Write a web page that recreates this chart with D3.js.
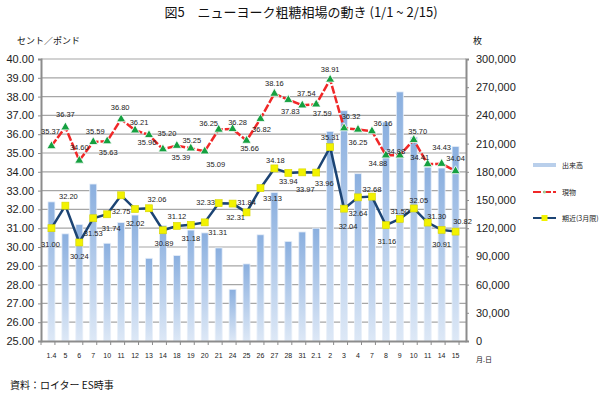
<!DOCTYPE html>
<html>
<head>
<meta charset="utf-8">
<script src="https://cdn.jsdelivr.net/npm/d3@7"></script>
<style>
  body { margin: 0; background: #fff; }
  text { font-family: "Liberation Sans", Arial, "Noto Sans CJK JP", sans-serif; }
  .jp { font-family: "Noto Sans CJK JP", sans-serif; }
</style>
</head>
<body>
<script>
// data
var dates = ["1.4","5","6","7","10","11","12","13","14","18","19","20","21","24","25",
             "26","27","28","31","2.1","2","3","4","7","8","9","10","11","14","15"];

var spot = [35.37,36.37,34.60,35.59,35.63,36.80,36.21,35.96,35.20,35.39,35.25,35.09,36.25,36.28,35.66,
            36.82,38.16,37.83,37.54,37.59,38.91,36.32,36.25,36.16,34.88,34.88,35.70,34.41,34.43,34.04];

var nearby = [31.00,32.20,30.24,31.53,31.74,32.75,32.02,32.06,30.89,31.12,31.18,31.31,32.33,32.31,31.84,
              33.13,34.18,33.94,33.97,33.96,35.31,32.04,32.64,32.68,31.16,31.50,32.05,31.30,30.91,30.82];

var volume = [148000,114000,124000,167000,104000,126000,134000,88000,123000,91000,118000,115000,99000,55000,82000,
              113000,158000,106000,116000,120000,223000,245000,178000,152000,233000,265000,217000,185000,184000,207000];

var leftTicks = d3.range(25, 40.01, 1);
var rightTicks = d3.range(0, 300001, 30000);

// label nudges [dx, dy] so the numbers sit where they do in the original
var spotLab = [[-1,-15],[0,-13],[0,-13],[2,-10],[1,11],[-1,-12],[4,-8],[-2,8],[4,-16],[4,12],
               [1,-8],[11,13],[-10,-6],[5,-6],[3,8],[1,11],[0,-10],[2,12],[4,-12],[6,9],
               [0,-10],[7,-12],[0,13],[11,-8],[-8,8],[-4,-4],[4,-8],[-8,-7],[0,-16],[0,-13]];
var nearLab = [[-1,16],[3,-9],[0,14],[0,15],[4,14],[0,16],[0,14],[8,-9],[1,13],[0,-9],
               [0,14],[13,10],[-13,-1],[3,14],[0,-10],[12,10],[1,-8],[0,9],[3,17],[8,11],
               [0,-10],[4,18],[0,16],[0,-7],[1,16],[0,-7],[5,-8],[9,-6],[0,15],[7,-10]];

var width = 604,
    height = 396;

var plotLeft = 41, plotRight = 466, plotTop = 59, plotBottom = 341;

var svg = d3.select("body")
            .append("svg")
            .attr("width", width)
            .attr("height", height);

var defs = svg.append("defs");
var grad = defs.append("linearGradient")
               .attr("id", "barGrad")
               .attr("x1", 0).attr("y1", 0).attr("x2", 0).attr("y2", 1);
grad.append("stop").attr("offset", "0%").attr("stop-color", "#8aafdf");
grad.append("stop").attr("offset", "100%").attr("stop-color", "#dde8f6");

var x = d3.scaleBand()
          .domain(d3.range(dates.length))
          .range([plotLeft, plotRight])
          .padding(0.5);

var y = d3.scaleLinear().domain([25, 40]).range([plotBottom, plotTop]);
var y2 = d3.scaleLinear().domain([0, 300000]).range([plotBottom, plotTop]);

var cx = function(i) { return x(i) + x.bandwidth() / 2; };

// title
svg.append("text")
   .attr("class", "jp")
   .attr("x", 301).attr("y", 17)
   .attr("text-anchor", "middle")
   .attr("font-size", 13)
   .attr("fill", "#111")
   .text("図5　ニューヨーク粗糖相場の動き (1/1 ~ 2/15)");

svg.append("text")
   .attr("class", "jp")
   .attr("x", 17).attr("y", 44)
   .attr("font-size", 9)
   .attr("fill", "#111")
   .text("セント／ポンド");

svg.append("text")
   .attr("class", "jp")
   .attr("x", 473).attr("y", 44)
   .attr("font-size", 9)
   .attr("fill", "#111")
   .text("枚");

// gridlines
svg.append("g")
   .selectAll("line")
   .data(leftTicks.slice(1))
   .enter()
   .append("line")
     .attr("x1", plotLeft).attr("x2", plotRight)
     .attr("y1", d => y(d)).attr("y2", d => y(d))
     .attr("stroke", "#a6a6a6")
     .attr("stroke-width", 1.2);

// bars
svg.append("g")
   .selectAll("rect")
   .data(volume)
   .enter()
   .append("rect")
     .attr("x", (d, i) => x(i))
     .attr("y", d => y2(d))
     .attr("width", x.bandwidth())
     .attr("height", d => plotBottom - y2(d))
     .attr("fill", "url(#barGrad)")
     .attr("stroke", "#e8eff9")
     .attr("stroke-width", 0.8);

// axes
var axL = svg.append("g")
   .attr("transform", "translate(" + plotLeft + ",0)")
   .call(d3.axisLeft(y).tickValues(leftTicks).tickFormat(d3.format(".2f")).tickSize(3).tickPadding(4));
var axR = svg.append("g")
   .attr("transform", "translate(" + plotRight + ",0)")
   .call(d3.axisRight(y2).tickValues(rightTicks).tickFormat(d3.format(",")).tickSize(3).tickPadding(7));
var axB = svg.append("g")
   .attr("transform", "translate(0," + plotBottom + ")")
   .call(d3.axisBottom(x).tickFormat(i => dates[i]).tickSize(0).tickPadding(12));

[axL, axR].forEach(function(a) {
  a.select(".domain").attr("stroke", "#8c8c8c").attr("stroke-width", 2);
  a.selectAll(".tick line").attr("stroke", "#8c8c8c");
  a.selectAll("text").attr("font-size", 11).attr("fill", "#222");
});
axB.select(".domain").attr("stroke", "#8c8c8c").attr("stroke-width", 2);
axB.selectAll("text").attr("font-size", 7).attr("fill", "#222");

// little ticks between categories on the bottom axis
svg.append("g")
   .selectAll("line")
   .data(d3.range(dates.length + 1))
   .enter()
   .append("line")
     .attr("x1", i => plotLeft + i * x.step())
     .attr("x2", i => plotLeft + i * x.step())
     .attr("y1", plotBottom).attr("y2", plotBottom + 4)
     .attr("stroke", "#8c8c8c");

svg.append("text")
   .attr("class", "jp")
   .attr("x", 476).attr("y", 362)
   .attr("font-size", 7)
   .attr("fill", "#222")
   .text("月.日");

// spot line (red dashed, green triangles)
var line1 = d3.line().x((d, i) => cx(i)).y(d => y(d));
svg.append("path")
   .datum(spot)
   .attr("d", line1)
   .attr("fill", "none")
   .attr("stroke", "#f02828")
   .attr("stroke-width", 2.5)
   .attr("stroke-dasharray", "8,2");

svg.append("g")
   .selectAll("path")
   .data(spot)
   .enter()
   .append("path")
     .attr("d", d3.symbol().type(d3.symbolTriangle).size(36))
     .attr("transform", (d, i) => "translate(" + cx(i) + "," + y(d) + ")")
     .attr("fill", "#15a040")
     .attr("stroke", "#fff")
     .attr("stroke-width", 0.8);

// nearby futures line (navy, yellow squares)
svg.append("path")
   .datum(nearby)
   .attr("d", line1)
   .attr("fill", "none")
   .attr("stroke", "#1c4474")
   .attr("stroke-width", 2.5);

svg.append("g")
   .selectAll("rect")
   .data(nearby)
   .enter()
   .append("rect")
     .attr("x", (d, i) => cx(i) - 3.5)
     .attr("y", d => y(d) - 3.5)
     .attr("width", 7).attr("height", 7)
     .attr("fill", "#f2f200")
     .attr("stroke", "#d6d600")
     .attr("stroke-width", 0.6);

// value labels
svg.append("g")
   .selectAll("text")
   .data(spot)
   .enter()
   .append("text")
     .attr("x", (d, i) => cx(i) + spotLab[i][0])
     .attr("y", (d, i) => y(d) + spotLab[i][1])
     .attr("text-anchor", "middle")
     .attr("dominant-baseline", "central")
     .attr("font-size", 7.5)
     .attr("fill", "#222")
     .text(d => d.toFixed(2));

svg.append("g")
   .selectAll("text")
   .data(nearby)
   .enter()
   .append("text")
     .attr("x", (d, i) => cx(i) + nearLab[i][0])
     .attr("y", (d, i) => y(d) + nearLab[i][1])
     .attr("text-anchor", "middle")
     .attr("dominant-baseline", "central")
     .attr("font-size", 7.5)
     .attr("fill", "#222")
     .text(d => d.toFixed(2));

// legend
var lg = svg.append("g").attr("transform", "translate(533,0)");
lg.append("rect")
  .attr("x", 0).attr("y", 163).attr("width", 23).attr("height", 4)
  .attr("fill", "#b9cfeb");
lg.append("line")
  .attr("x1", 0).attr("x2", 23).attr("y1", 192).attr("y2", 192)
  .attr("stroke", "#f02828").attr("stroke-width", 2).attr("stroke-dasharray", "8,2");
lg.append("circle")
  .attr("cx", 11.5).attr("cy", 192).attr("r", 1.5).attr("fill", "#9fd49f");
lg.append("line")
  .attr("x1", 0).attr("x2", 23).attr("y1", 218).attr("y2", 218)
  .attr("stroke", "#1c4474").attr("stroke-width", 2);
lg.append("rect")
  .attr("x", 8.5).attr("y", 215).attr("width", 6).attr("height", 6)
  .attr("fill", "#f2f200");
lg.selectAll("text.lab")
  .data([["出来高", 165], ["現物", 192], ["期近(3月限)", 218]])
  .enter()
  .append("text")
    .attr("class", "jp")
    .attr("x", 29).attr("y", d => d[1])
    .attr("dominant-baseline", "central")
    .attr("font-size", 7)
    .attr("fill", "#222")
    .text(d => d[0]);

svg.append("text")
   .attr("class", "jp")
   .attr("x", 10).attr("y", 389)
   .attr("font-size", 10)
   .attr("fill", "#111")
   .text("資料：ロイター ES時事");
</script>
</body>
</html>
